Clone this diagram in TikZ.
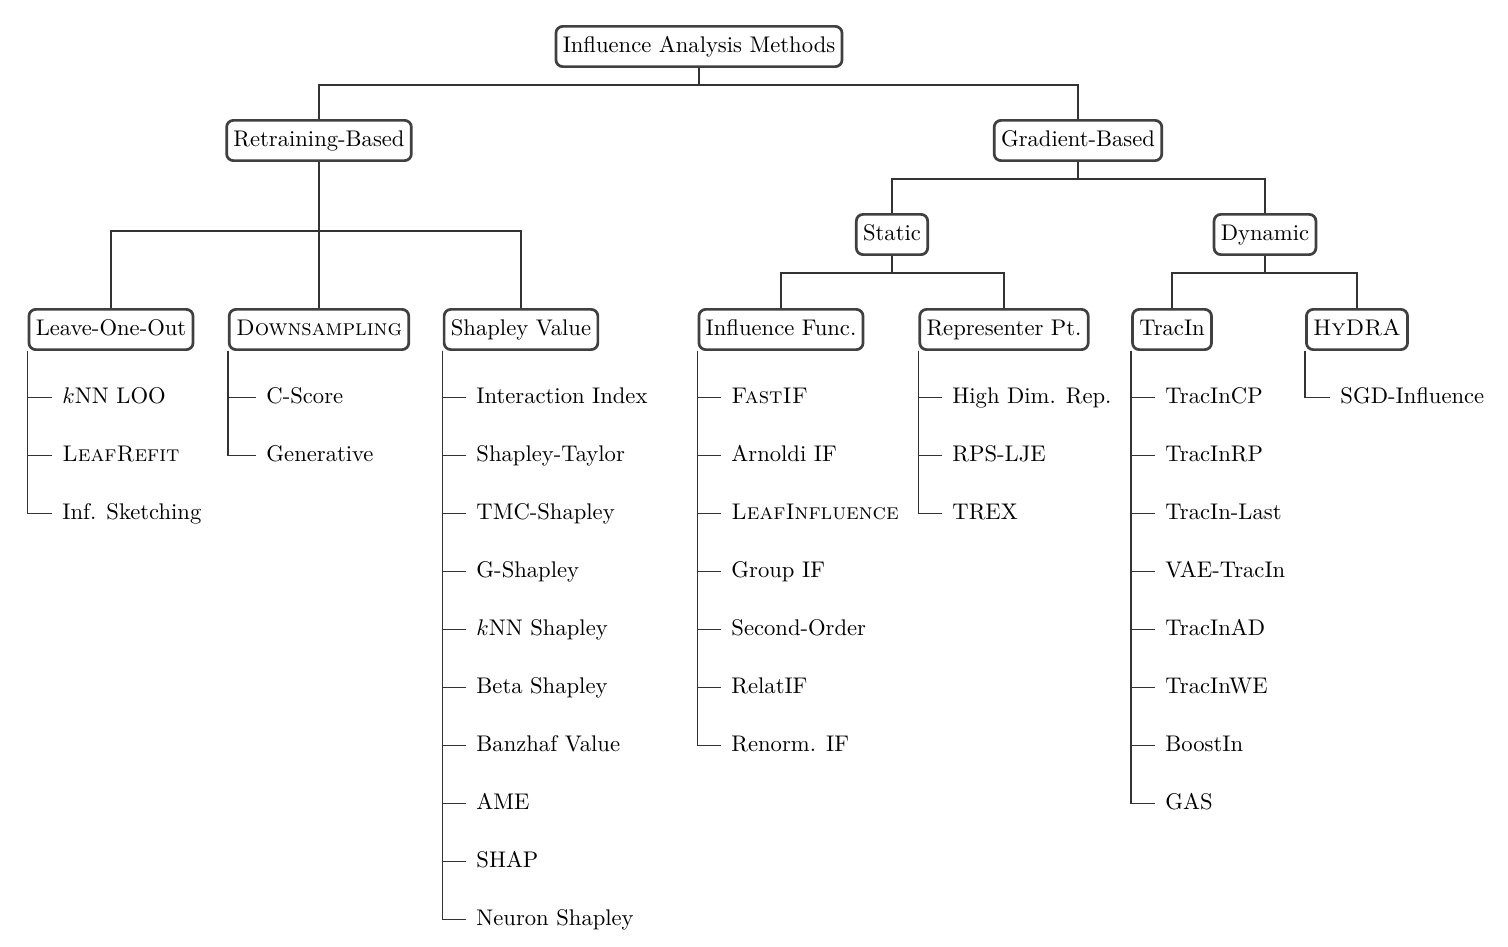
\documentclass[tikz,border=0pt]{standalone}
\usepackage{fontspec}
\usepackage{tikz}

\tikzset{
  method/.style={draw=black!75, line width=1.2pt, rounded corners=3pt, fill=white,
    inner xsep=3pt, inner ysep=4.4pt, text height=7pt, text depth=2pt},
  leaf/.style={anchor=west, inner sep=0pt, text height=7pt, text depth=2pt},
  link/.style={draw=black!80, line width=0.6pt}
}

\begin{document}
\begin{tikzpicture}[x=0.442pt, y=-0.442pt]

    \useasboundingbox (0,-1.5) rectangle (1508,945.5);

    % Root
    \node[method] (root) at (699,45) {Influence Analysis Methods};

    % First level
    \node[method] (rb) at (319,139) {Retraining-Based};
    \node[method] (gb) at (1078,139) {Gradient-Based};

    \draw[link] (root.south) -- ++(0,17) -| (rb.north);
    \draw[link] (root.south) -- ++(0,17) -| (gb.north);

    % Gradient-Based
    \node[method] (st) at (892,233) {Static};
    \node[method] (dy) at (1265,233) {Dynamic};

    \draw[link] (gb.south) -- ++(0,17) -| (st.north);
    \draw[link] (gb.south) -- ++(0,17) -| (dy.north);

    % Retraining-Based
    \node[method] (lo) at (111,328) {Leave-One-Out};
    \node[method] (ds) at (319,328) {\textsc{Downsampling}};
    \node[method] (sv) at (521,328) {Shapley Value};

    \draw[link] (rb.south) -- ++(0,69) -| (lo.north);
    \draw[link] (rb.south) -- ++(0,69) -| (ds.north);
    \draw[link] (rb.south) -- ++(0,69) -| (sv.north);

    %% Static
    \node[method] (if) at (781,328) {Influence Func.};
    \node[method] (rp) at (1004,328) {Representer Pt.};

    \draw[link] (st.south) -- ++(0,17) -| (if.north);
    \draw[link] (st.south) -- ++(0,17) -| (rp.north);

    %% Dynamic
    \node[method] (ti) at (1172,328) {TracIn};
    \node[method] (hy) at (1357,328) {\textsc{HyDRA}};

    \draw[link] (dy.south) -- ++(0,17) -| (ti.north);
    \draw[link] (dy.south) -- ++(0,17) -| (hy.north);

    % Leave-One-Out leaves
    \node[leaf] (lo1) at (62,396) {$k$NN LOO};
    \node[leaf] (lo2) at (62,454) {\textsc{LeafRefit}};
    \node[leaf] (lo3) at (62,512) {Inf. Sketching};

    \draw[link] (lo.south west) |- ([xshift=-4.42pt]lo1.west);
    \draw[link] (lo.south west) |- ([xshift=-4.42pt]lo2.west);
    \draw[link] (lo.south west) |- ([xshift=-4.42pt]lo3.west);

    % Downsampling leaves
    \node[leaf] (ds1) at (266,396) {C-Score};
    \node[leaf] (ds2) at (266,454) {Generative};

    \draw[link] (ds.south west) |- ([xshift=-4.42pt]ds1.west);
    \draw[link] (ds.south west) |- ([xshift=-4.42pt]ds2.west);

    % Shapley Value leaves
    \node[leaf] (sv1) at (476,396) {Interaction Index};
    \node[leaf] (sv2) at (476,454) {Shapley-Taylor};
    \node[leaf] (sv3) at (476,512) {TMC-Shapley};
    \node[leaf] (sv4) at (476,570) {G-Shapley};
    \node[leaf] (sv5) at (476,628) {$k$NN Shapley};
    \node[leaf] (sv6) at (476,686) {Beta Shapley};
    \node[leaf] (sv7) at (476,744) {Banzhaf Value};
    \node[leaf] (sv8) at (476,802) {AME};
    \node[leaf] (sv9) at (476,860) {SHAP};
    \node[leaf] (sv10) at (476,918) {Neuron Shapley};

    \draw[link] (sv.south west) |- ([xshift=-4.42pt]sv1.west);
    \draw[link] (sv.south west) |- ([xshift=-4.42pt]sv2.west);
    \draw[link] (sv.south west) |- ([xshift=-4.42pt]sv3.west);
    \draw[link] (sv.south west) |- ([xshift=-4.42pt]sv4.west);
    \draw[link] (sv.south west) |- ([xshift=-4.42pt]sv5.west);
    \draw[link] (sv.south west) |- ([xshift=-4.42pt]sv6.west);
    \draw[link] (sv.south west) |- ([xshift=-4.42pt]sv7.west);
    \draw[link] (sv.south west) |- ([xshift=-4.42pt]sv8.west);
    \draw[link] (sv.south west) |- ([xshift=-4.42pt]sv9.west);
    \draw[link] (sv.south west) |- ([xshift=-4.42pt]sv10.west);

    % Influence Func. leaves
    \node[leaf] (if1) at (731,396) {\textsc{FastIF}};
    \node[leaf] (if2) at (731,454) {Arnoldi IF};
    \node[leaf] (if3) at (731,512) {\textsc{LeafInfluence}};
    \node[leaf] (if4) at (731,570) {Group IF};
    \node[leaf] (if5) at (731,628) {Second-Order};
    \node[leaf] (if6) at (731,686) {RelatIF};
    \node[leaf] (if7) at (731,744) {Renorm. IF};

    \draw[link] (if.south west) |- ([xshift=-4.42pt]if1.west);
    \draw[link] (if.south west) |- ([xshift=-4.42pt]if2.west);
    \draw[link] (if.south west) |- ([xshift=-4.42pt]if3.west);
    \draw[link] (if.south west) |- ([xshift=-4.42pt]if4.west);
    \draw[link] (if.south west) |- ([xshift=-4.42pt]if5.west);
    \draw[link] (if.south west) |- ([xshift=-4.42pt]if6.west);
    \draw[link] (if.south west) |- ([xshift=-4.42pt]if7.west);

    % Representer Pt. leaves
    \node[leaf] (rp1) at (952,396) {High Dim. Rep.};
    \node[leaf] (rp2) at (952,454) {RPS-LJE};
    \node[leaf] (rp3) at (952,512) {TREX};

    \draw[link] (rp.south west) |- ([xshift=-4.42pt]rp1.west);
    \draw[link] (rp.south west) |- ([xshift=-4.42pt]rp2.west);
    \draw[link] (rp.south west) |- ([xshift=-4.42pt]rp3.west);

    % TracIn leaves
    \node[leaf] (ti1) at (1165,396) {TracInCP};
    \node[leaf] (ti2) at (1165,454) {TracInRP};
    \node[leaf] (ti3) at (1165,512) {TracIn-Last};
    \node[leaf] (ti4) at (1165,570) {VAE-TracIn};
    \node[leaf] (ti5) at (1165,628) {TracInAD};
    \node[leaf] (ti6) at (1165,686) {TracInWE};
    \node[leaf] (ti7) at (1165,744) {BoostIn};
    \node[leaf] (ti8) at (1165,802) {GAS};

    \draw[link] (ti.south west) |- ([xshift=-4.42pt]ti1.west);
    \draw[link] (ti.south west) |- ([xshift=-4.42pt]ti2.west);
    \draw[link] (ti.south west) |- ([xshift=-4.42pt]ti3.west);
    \draw[link] (ti.south west) |- ([xshift=-4.42pt]ti4.west);
    \draw[link] (ti.south west) |- ([xshift=-4.42pt]ti5.west);
    \draw[link] (ti.south west) |- ([xshift=-4.42pt]ti6.west);
    \draw[link] (ti.south west) |- ([xshift=-4.42pt]ti7.west);
    \draw[link] (ti.south west) |- ([xshift=-4.42pt]ti8.west);

    % HyDRA leaves
    \node[leaf] (hy1) at (1340,396) {SGD-Influence};

    \draw[link] (hy.south west) |- ([xshift=-4.42pt]hy1.west);

\end{tikzpicture}
\end{document}
